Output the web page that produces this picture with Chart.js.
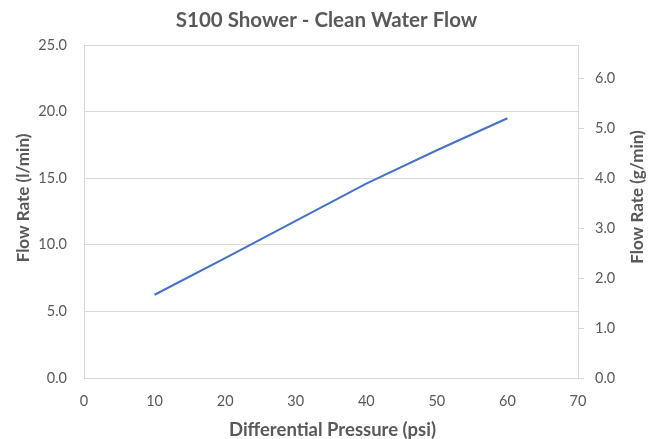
<!DOCTYPE html>
<html>
<head>
<meta charset="utf-8">
<script src="https://cdn.jsdelivr.net/npm/chart.js@4/dist/chart.umd.min.js"></script>
<style>
html,body{margin:0;padding:0;background:#fff;}
#wrap{width:656px;height:439px;position:relative;}
</style>
</head>
<body>
<div id="wrap"><canvas id="c" width="656" height="439"></canvas></div>
<script>
// Data
const pressurePsi = [10, 20, 30, 40, 50, 60];
const flowLpm = [6.25, 9.0, 11.8, 14.6, 17.1, 19.5];
const xTicks = [0, 10, 20, 30, 40, 50, 60, 70];
const leftTicks = [0, 5, 10, 15, 20, 25];
const rightTicks = [0, 1, 2, 3, 4, 5, 6];
const rightMax = 25 / 3.75;

const chartTitle = 'S100 Shower - Clean Water Flow';
const xTitle = 'Differential Pressure (psi)';
const yLeftTitle = 'Flow Rate (l/min)';
const yRightTitle = 'Flow Rate (g/min)';

const TXT = '#595959';
const GRID = '#d9d9d9';
const FONT = 'Lato, "Open Sans", sans-serif';

const textPlugin = {
  id: 'texts',
  afterDraw(chart) {
    const ctx = chart.ctx;
    ctx.save();
    ctx.fillStyle = TXT;
    ctx.textAlign = 'center';
    ctx.textBaseline = 'alphabetic';
    ctx.font = 'bold 20.5px ' + FONT;
    ctx.fillText(chartTitle, 326.5, 27);
    ctx.font = 'bold 18.5px ' + FONT;
    ctx.fillText(xTitle, 332.5, 436);
    ctx.font = 'bold 17px ' + FONT;
    ctx.save();
    ctx.translate(29, 198);
    ctx.rotate(-Math.PI / 2);
    ctx.fillText(yLeftTitle, 0, 0);
    ctx.restore();
    ctx.save();
    ctx.translate(643, 197);
    ctx.rotate(-Math.PI / 2);
    ctx.fillText(yRightTitle, 0, 0);
    ctx.restore();
    ctx.restore();
  }
};

new Chart(document.getElementById('c'), {
  type: 'line',
  data: {
    datasets: [{
      data: pressurePsi.map((p, i) => ({x: p, y: flowLpm[i]})),
      borderColor: '#4472C4',
      borderWidth: 2,
      pointRadius: 0,
      tension: 0,
      fill: false,
      yAxisID: 'y'
    }]
  },
  options: {
    responsive: false,
    animation: false,
    plugins: { legend: {display: false}, tooltip: {enabled: false}, title: {display: false} },
    layout: { padding: {top: 45, left: 0, right: 0, bottom: 0} },
    scales: {
      x: {
        type: 'linear', min: 0, max: 70,
        afterBuildTicks: s => { s.ticks = xTicks.map(v => ({value: v})); },
        afterFit: s => { s.height = 61; },
        ticks: { color: TXT, font: {family: FONT, size: 14.5}, padding: 15, maxRotation: 0 },
        grid: { display: false, drawTicks: false },
        border: { display: true, color: GRID, width: 1 }
      },
      y: {
        position: 'left', min: 0, max: 25,
        afterBuildTicks: s => { s.ticks = leftTicks.map(v => ({value: v})); },
        afterFit: s => { s.width = 84; },
        ticks: { color: TXT, font: {family: FONT, size: 14.5}, padding: 17, callback: v => Number(v).toFixed(1) },
        grid: { color: GRID, lineWidth: 1, drawTicks: false },
        border: { display: true, color: GRID, width: 1 }
      },
      y2: {
        position: 'right', min: 0, max: rightMax,
        afterBuildTicks: s => { s.ticks = rightTicks.map(v => ({value: v})); },
        afterFit: s => { s.width = 78; },
        ticks: { color: TXT, font: {family: FONT, size: 14.5}, padding: 11, callback: v => Number(v).toFixed(1) },
        grid: { color: GRID, lineWidth: 1, drawOnChartArea: false, drawTicks: true, tickLength: 6 },
        border: { display: true, color: GRID, width: 1 }
      }
    }
  },
  plugins: [textPlugin]
});
</script>
</body>
</html>
